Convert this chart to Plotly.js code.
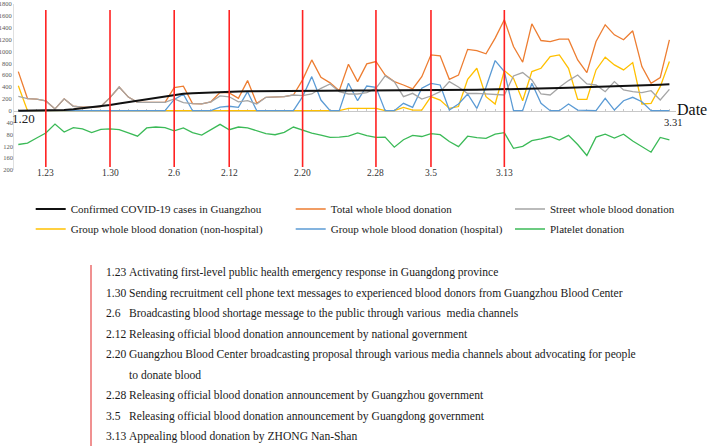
<!DOCTYPE html>
<html><head><meta charset="utf-8">
<script src="https://cdn.plot.ly/plotly-3.0.1.min.js"></script>
<style>html,body{margin:0;padding:0;background:#fff}#chart{width:709px;height:446px}</style>
</head><body><div id="chart"></div>
<script>
const dates = ['1.20','1.21','1.22','1.23','1.24','1.25','1.26','1.27','1.28','1.29','1.30','1.31',
'2.1','2.2','2.3','2.4','2.5','2.6','2.7','2.8','2.9','2.10','2.11','2.12','2.13','2.14','2.15','2.16','2.17','2.18','2.19','2.20','2.21','2.22','2.23','2.24','2.25','2.26','2.27','2.28','2.29',
'3.1','3.2','3.3','3.4','3.5','3.6','3.7','3.8','3.9','3.10','3.11','3.12','3.13','3.14','3.15','3.16','3.17','3.18','3.19','3.20','3.21','3.22','3.23','3.24','3.25','3.26','3.27','3.28','3.29','3.30','3.31'];

const confirmed = [0,0,2,5,7,12,25,40,55,70,95,120,
145,170,195,220,245,270,285,295,303,310,316,322,326,329,331,333,334,335,336,337,338,339,340,340,341,341,342,342,343,
344,345,345,346,346,347,348,350,352,354,356,358,361,364,367,371,375,379,383,387,391,395,400,405,410,415,421,427,433,439,446];

const totalWhole = [660,205,195,165,30,200,75,60,60,70,220,400,
230,140,140,140,140,390,415,120,115,150,310,300,210,508,124,226,226,237,265,520,857,564,470,338,784,491,790,830,600,
491,434,367,575,942,925,530,600,1035,1015,960,1224,1534,1083,818,1466,1184,1167,1207,1207,857,643,1167,1449,1280,1196,1348,744,462,558,1196];

const streetWhole = [240,205,195,165,30,200,75,60,60,70,220,400,
230,140,140,140,140,200,135,120,115,150,250,235,150,169,113,226,226,237,265,254,282,378,451,321,282,282,305,378,587,
491,237,293,197,248,321,491,400,290,293,282,265,265,587,643,519,282,265,395,508,603,451,434,321,491,350,321,305,338,180,361];

const groupNonHospital = [420,0,0,0,0,0,0,0,0,0,0,0,
0,0,0,0,0,0,0,0,0,0,0,0,0,0,0,0,0,0,0,0,0,0,0,0,40,40,40,40,0,
0,56,10,10,237,180,39,70,530,716,237,113,677,547,169,660,716,914,942,716,192,192,688,902,773,688,812,113,124,406,829];

const groupHospital = [0,0,0,0,0,0,0,0,0,0,0,0,
0,0,0,0,0,190,280,0,0,0,60,75,56,321,0,0,0,0,0,237,575,180,0,0,462,169,417,395,0,
0,124,56,378,462,434,11,113,282,39,395,846,660,0,0,462,124,0,0,113,11,0,0,209,11,169,226,152,0,0,0];

const platelet = [114,109,92,75,45,72,57,61,74,63,61,64,
75,86,58,55,57,68,58,74,82,64,46,64,55,58,68,77,81,73,55,66,76,82,90,89,86,75,84,90,89,
123,98,83,87,77,81,104,121,86,91,93,79,74,127,120,101,95,87,99,83,114,151,89,79,92,79,102,122,140,90,98];

const eventDates = ['1.23','1.30','2.6','2.12','2.20','2.28','3.5','3.13'];
const eventTexts = [
  ['Activating first-level public health emergency response in Guangdong province'],
  ['Sending recruitment cell phone text messages to experienced blood donors from Guangzhou Blood Center'],
  ['Broadcasting blood shortage message to the public through various  media channels'],
  ['Releasing official blood donation announcement by national government'],
  ['Guangzhou Blood Center broadcasting proposal through various media channels about advocating for people','to donate blood'],
  ['Releasing official blood donation announcement by Guangzhou government'],
  ['Releasing official blood donation announcement by Guangdong government'],
  ['Appealing blood donation by ZHONG Nan-Shan']
];
const wholeBloodTicks = [0,200,400,600,800,1000,1200,1400,1600,1800];
const plateletTicks = [40,80,120,160,200];

const FONT = 'Liberation Serif, Times New Roman, serif';
// pixel helpers for layout (plot area: left 14, width 662, top 4, height 166)
const px = x => (x - 14) / 662;
const py = y => (170 - y) / 166;
const idx = d => dates.indexOf(d); // category position on the x axis

function line(name, y, color, width, legend, axis) {
  return {type:'scatter', mode:'lines', name:name, x:dates, y:y, yaxis:axis||'y',
    line:{color:color, width:width}, legend:legend, hoverinfo:'skip'};
}
const traces = [
  line('Total whole blood donation', totalWhole, '#ED7D31', 1.3, 'legend2'),
  line('Group whole blood donation (non-hospital)', groupNonHospital, '#FFC000', 1.3, 'legend4'),
  line('Group whole blood donation (hospital)', groupHospital, '#5B9BD5', 1.3, 'legend5'),
  line('Street whole blood donation', streetWhole, '#A5A5A5', 1.3, 'legend3'),
  line('Confirmed COVID-19 cases in Guangzhou', confirmed, '#111111', 2.0, 'legend'),
  line('Platelet donation', platelet, '#3BBA57', 1.3, 'legend6', 'y2')
];

function leg(xp, yp) {
  return {x:px(xp), y:py(yp), xanchor:'left', yanchor:'middle', orientation:'v',
    bgcolor:'rgba(0,0,0,0)', font:{family:FONT, size:11, color:'#1a1a1a'}, tracegroupgap:0};
}

const shapes = eventDates.map(d => ({type:'line', xref:'x', yref:'paper', x0:idx(d), x1:idx(d),
  y0:py(167), y1:py(10), line:{color:'#FF2222', width:1.6}}));
shapes.push({type:'line', xref:'paper', yref:'paper', x0:px(91), x1:px(91), y0:py(446), y1:py(265),
  line:{color:'#EF8585', width:1.8}});

const annotations = [];
eventDates.forEach(d => annotations.push({xref:'x', yref:'paper', x:idx(d), y:py(173), text:d,
  showarrow:false, xanchor:'center', yanchor:'middle', font:{family:FONT, size:9.5, color:'#333'}}));
annotations.push({xref:'x', yref:'paper', x:0, xshift:5, y:py(119), text:dates[0], showarrow:false,
  xanchor:'center', yanchor:'middle', font:{family:FONT, size:13, color:'#222'}});
annotations.push({xref:'x', yref:'paper', x:dates.length-1, xshift:4, y:py(122.5), text:dates[dates.length-1], showarrow:false,
  xanchor:'center', yanchor:'middle', font:{family:FONT, size:10.5, color:'#222'}});
annotations.push({xref:'paper', yref:'paper', x:px(675), y:py(110), text:'Date', showarrow:false,
  xanchor:'left', yanchor:'middle', font:{family:FONT, size:16, color:'#111'}});
let row = 0;
eventDates.forEach((d, i) => {
  eventTexts[i].forEach((t, j) => {
    const yy = 272.7 + 20.5 * row;
    if (j === 0) annotations.push({xref:'paper', yref:'paper', x:px(104), y:py(yy), text:d, showarrow:false,
      xanchor:'left', yanchor:'middle', font:{family:FONT, size:11.6, color:'#1a1a1a'}});
    annotations.push({xref:'paper', yref:'paper', x:px(127), y:py(yy), text:t, showarrow:false,
      xanchor:'left', yanchor:'middle', font:{family:FONT, size:11.6, color:'#1a1a1a'}});
    row++;
  });
});

const layout = {
  width:709, height:446, margin:{l:14, r:33, t:4, b:276},
  paper_bgcolor:'#fff', plot_bgcolor:'#fff',
  font:{family:FONT, color:'#222'},
  xaxis:{type:'category', range:[-0.47, 71.72], anchor:'free', position:py(110.7),
    showline:true, linecolor:'#C8C8C8', linewidth:1.5, layer:'below traces',
    ticks:'inside', ticklen:2, tickcolor:'#C8C8C8', tickmode:'linear', tick0:0, dtick:1,
    showticklabels:false, showgrid:false, zeroline:false, fixedrange:true},
  yaxis:{range:[-1000, 1800], tickmode:'array', tickvals:wholeBloodTicks, ticktext:wholeBloodTicks.map(String),
    showline:true, linecolor:'#E0E0E0', linewidth:1, ticks:'', showgrid:false, zeroline:false,
    tickfont:{family:FONT, size:6.5, color:'#595959'}, fixedrange:true},
  yaxis2:{overlaying:'y', side:'left', range:[200, -360], tickmode:'array', tickvals:plateletTicks,
    ticktext:plateletTicks.map(String), showline:false, ticks:'', showgrid:false, zeroline:false,
    tickfont:{family:FONT, size:6.5, color:'#595959'}, fixedrange:true},
  showlegend:true,
  legend:leg(30.7, 209), legend2:leg(290.7, 209), legend3:leg(510, 209),
  legend4:leg(30.7, 229), legend5:leg(290.7, 229), legend6:leg(510, 229),
  shapes:shapes, annotations:annotations
};
Plotly.newPlot('chart', traces, layout, {displayModeBar:false, staticPlot:true});
</script></body></html>
